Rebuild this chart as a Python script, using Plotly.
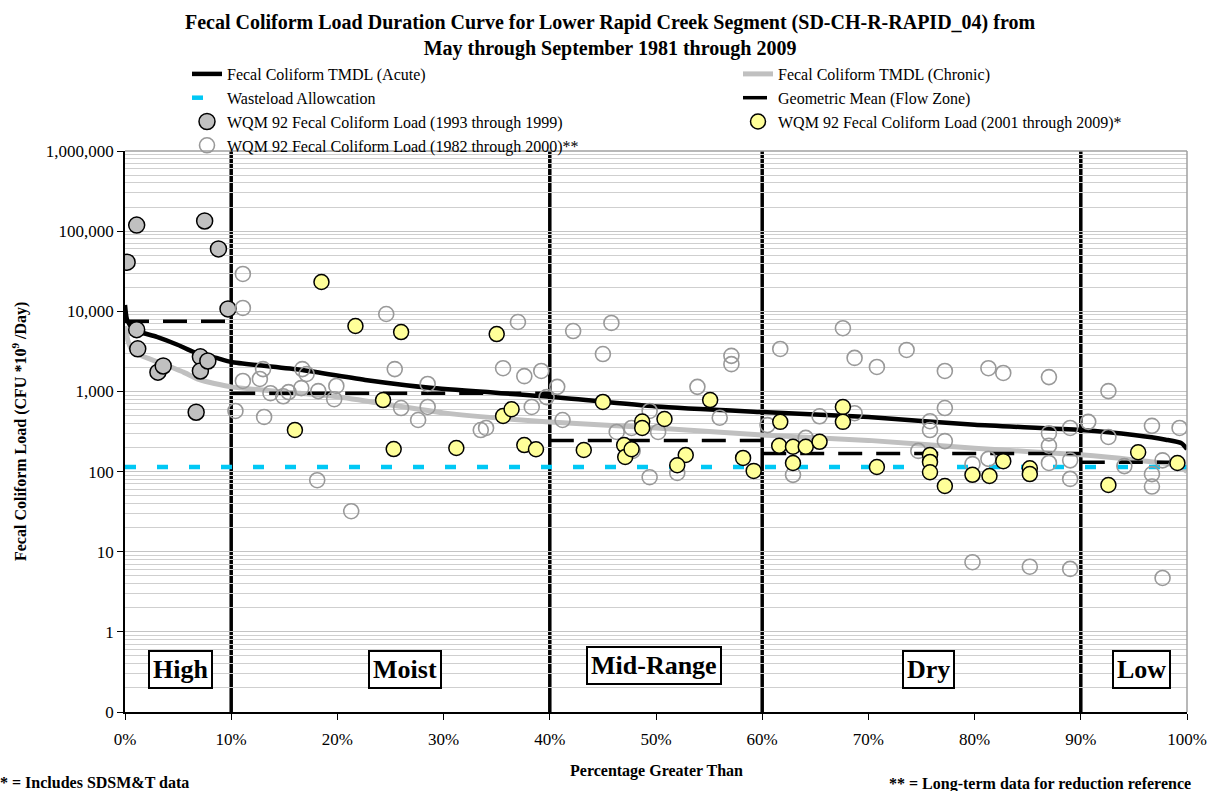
import plotly.graph_objects as go

# ---------------- data ----------------
acute_x = [0, 0.2, 0.8, 3, 5, 6.5, 8.7, 10, 16.5, 22.8, 29, 40, 50, 60, 70, 80, 90, 95, 98, 99.5, 100]
acute_y = [12000, 7800, 5900, 4800, 3800, 3100, 2600, 2330, 1860, 1380, 1100, 860, 650, 553, 480, 383, 330, 286, 250, 225, 190]

chronic_x = [0, 0.3, 0.7, 1.5, 3.3, 5.5, 7, 10, 16.5, 20, 30, 40, 50, 60, 70, 80, 90, 95, 99, 100]
chronic_y = [6500, 4200, 3200, 2800, 2270, 1740, 1400, 1140, 950, 860, 540, 415, 350, 286, 245, 195, 162, 140, 120, 100]

wla_x = [0, 100]
wla_y = [114, 114]

zone_edges = [0, 10, 40, 60, 90, 100]
zone_names = ["High", "Moist", "Mid-Range", "Dry", "Low"]
geomean = [7500, 950, 245, 168, 131]

gray_x = [0.2, 1.1, 1.1, 1.2, 3.1, 3.6, 6.7, 7.1, 7.1, 7.8, 7.5, 8.8, 9.7]
gray_y = [41000, 119000, 5900, 3400, 1740, 2080, 550, 2700, 1800, 2400, 134000, 60000, 10700]

yellow_x = [18.5, 21.7, 26.0, 24.3, 16.0, 25.3, 31.2, 35.0, 35.6, 36.4, 37.6, 38.7, 45.0, 43.2,
            47.0, 47.1, 47.7, 48.7, 48.7, 50.8, 52.8, 52.0, 55.1, 58.2, 59.2, 61.7, 61.6, 62.9,
            62.9, 64.1, 65.4, 67.6, 67.6, 70.8, 75.8, 75.8, 75.8, 77.2, 79.8, 81.4, 82.7, 85.2,
            85.2, 92.6, 95.4, 99.1]
yellow_y = [23200, 6550, 5500, 780, 330, 191, 197, 5200, 493, 600, 214, 190, 740, 186,
            214, 152, 190, 420, 350, 453, 161, 120, 780, 148, 102, 417, 210, 204,
            128, 204, 235, 640, 417, 114, 161, 132, 98, 66, 91, 88, 135, 110,
            93, 68, 174, 128]

hollow_x = [11.1, 11.1, 11.1, 10.4, 12.7, 13.0, 13.1, 13.7, 14.9, 15.4, 16.6, 16.7, 17.1, 18.2,
            19.7, 19.9, 18.1, 24.6, 25.4, 26.0, 27.6, 28.5, 28.5, 21.3, 33.5, 34.0, 35.6, 37.0,
            37.6, 38.3, 39.2, 39.7, 40.7, 41.2, 42.2, 45.0, 45.8, 46.3, 47.7, 49.4, 50.2, 49.4,
            47.8, 53.9, 56.0, 57.1, 57.1, 52.0, 60.5, 61.7, 64.1, 62.9, 65.4, 67.6, 68.7, 68.7,
            70.8, 73.6, 77.2, 77.2, 75.8, 75.8, 77.2, 74.7, 79.8, 81.3, 81.3, 82.7, 87.0, 87.0,
            87.0, 87.0, 89.0, 89.0, 89.0, 90.7, 92.6, 92.6, 94.1, 96.7, 96.7, 96.7, 97.7, 99.3,
            79.8, 85.2, 89.0, 97.7]
hollow_y = [29200, 11000, 1350, 570, 1430, 1900, 480, 950, 870, 980, 1100, 1900, 1650, 1010,
            800, 1170, 78, 9250, 1900, 620, 440, 1240, 640, 32, 330, 350, 1950, 7350,
            1550, 640, 1800, 850, 1140, 440, 5670, 2930, 7150, 312, 350, 570, 312, 85,
            181, 1140, 470, 2780, 2190, 96, 380, 3390, 263, 91, 490, 6150, 2620, 535,
            2020, 3290, 1800, 620, 425, 330, 240, 181, 124, 144, 1950, 1700, 1510, 300,
            210, 128, 350, 138, 81, 417, 1010, 270, 117, 372, 93, 65, 138, 350,
            7.4, 6.5, 6.1, 4.7]

y_tickvals = [0.1, 1, 10, 100, 1000, 10000, 100000, 1000000]
y_ticktext = ["0", "1", "10", "100", "1,000", "10,000", "100,000", "1,000,000"]

# ---------------- figure ----------------
SERIF = "Liberation Serif, Times New Roman, serif"
W, H = 1208, 791
ML, MR, MT, MB = 125, 21, 151, 79
PW, PH = W - ML - MR, H - MT - MB


def px_x(px):
    return (px - ML) / PW


def px_y(py):
    return (MT + PH - py) / PH


fig = go.Figure()

fig.add_trace(go.Scatter(x=acute_x, y=acute_y, mode="lines", name="Fecal Coliform TMDL (Acute)",
                         line=dict(color="black", width=4.5, shape="spline", smoothing=0.6),
                         legend="legend"))
fig.add_trace(go.Scatter(x=chronic_x, y=chronic_y, mode="lines", name="Fecal Coliform TMDL (Chronic)",
                         line=dict(color="#c0c0c0", width=5, shape="spline", smoothing=0.6),
                         legend="legend2"))
fig.add_trace(go.Scatter(x=wla_x, y=wla_y, mode="lines", name="Wasteload Allowcation",
                         line=dict(color="#00c8f5", width=4.5, dash="11px,21px"),
                         legend="legend"))

gm_x, gm_y = [], []
for i, v in enumerate(geomean):
    gm_x += [zone_edges[i], zone_edges[i + 1], None]
    gm_y += [v, v, None]
fig.add_trace(go.Scatter(x=gm_x, y=gm_y, mode="lines", name="Geometric Mean (Flow Zone)",
                         line=dict(color="black", width=3.5, dash="24px,14px"),
                         legend="legend2"))

fig.add_trace(go.Scatter(x=gray_x, y=gray_y, mode="markers",
                         name="WQM 92 Fecal Coliform Load (1993 through 1999)",
                         marker=dict(size=16, color="#c0c0c0", line=dict(color="black", width=1.5)),
                         legend="legend"))
fig.add_trace(go.Scatter(x=hollow_x, y=hollow_y, mode="markers",
                         name="WQM 92 Fecal Coliform Load (1982 through 2000)**",
                         marker=dict(size=15, symbol="circle-open", color="#999999",
                                     line=dict(color="#999999", width=1.6)),
                         legend="legend"))
fig.add_trace(go.Scatter(x=yellow_x, y=yellow_y, mode="markers",
                         name="WQM 92 Fecal Coliform Load (2001 through 2009)*",
                         marker=dict(size=15, color="#ffff99", line=dict(color="black", width=1.5)),
                         legend="legend2"))

# zone boundary lines
for b in zone_edges[1:-1]:
    fig.add_shape(type="line", xref="x", yref="paper", x0=b, x1=b, y0=0, y1=1,
                  line=dict(color="black", width=3.5), layer="below")
# top / right gray frame
fig.add_shape(type="line", xref="paper", yref="paper", x0=0, x1=1, y0=1, y1=1,
              line=dict(color="#a0a0a0", width=1.5))
fig.add_shape(type="line", xref="paper", yref="paper", x0=1, x1=1, y0=0, y1=1,
              line=dict(color="#a0a0a0", width=1.5))

# zone labels
label_pos = [(5.2, -0.47), (26.4, -0.47), (49.8, -0.42), (75.7, -0.47), (95.7, -0.47)]
for name, (lx, ly) in zip(zone_names, label_pos):
    fig.add_annotation(x=lx, y=ly, xref="x", yref="y", text="<b>%s</b>" % name, showarrow=False,
                       font=dict(family=SERIF, size=26, color="black"),
                       bgcolor="white", bordercolor="black", borderwidth=2, borderpad=3)

# title
fig.add_annotation(xref="paper", yref="paper", x=px_x(610), y=px_y(35), xanchor="center",
                   yanchor="middle", showarrow=False,
                   text="<b>Fecal Coliform Load Duration Curve for Lower Rapid Creek Segment (SD-CH-R-RAPID_04) from"
                        "<br>May through September 1981 through 2009</b>",
                   font=dict(family=SERIF, size=20, color="black"))
# axis titles
fig.add_annotation(xref="paper", yref="paper", x=px_x(656), y=px_y(771), xanchor="center",
                   yanchor="middle", showarrow=False, text="<b>Percentage Greater Than</b>",
                   font=dict(family=SERIF, size=16, color="black"))
fig.add_annotation(xref="paper", yref="paper", x=px_x(19), y=px_y(432), xanchor="center",
                   yanchor="middle", showarrow=False, textangle=-90,
                   text="<b>Fecal Coliform Load (CFU *10<sup>9</sup> /Day)</b>",
                   font=dict(family=SERIF, size=16, color="black"))

# footnotes
fig.add_annotation(xref="paper", yref="paper", x=px_x(-2), y=px_y(782),
                   xanchor="left", yanchor="middle",
                   text="<b>* = Includes SDSM&T data</b>", showarrow=False,
                   font=dict(family=SERIF, size=16, color="black"))
fig.add_annotation(xref="paper", yref="paper", x=px_x(1193), y=px_y(784),
                   xanchor="right", yanchor="middle",
                   text="<b>** = Long-term data for reduction reference</b>", showarrow=False,
                   font=dict(family=SERIF, size=16, color="black"))

fig.update_layout(
    width=W, height=H,
    margin=dict(l=ML, r=MR, t=MT, b=MB, autoexpand=False),
    paper_bgcolor="white", plot_bgcolor="white",
    font=dict(family=SERIF, color="black"),
    showlegend=True,
    legend=dict(xref="container", yref="container", x=187 / W, y=1 - 57 / H,
                xanchor="left", yanchor="top", bgcolor="rgba(0,0,0,0)",
                font=dict(family=SERIF, size=16, color="black"), tracegroupgap=0),
    legend2=dict(xref="container", yref="container", x=738 / W, y=1 - 57 / H,
                 xanchor="left", yanchor="top", bgcolor="rgba(0,0,0,0)",
                 font=dict(family=SERIF, size=16, color="black"), tracegroupgap=0),
    xaxis=dict(range=[0, 100], dtick=10, tick0=0, ticksuffix="%", ticks="outside", ticklen=6,
               tickcolor="black", showgrid=False, zeroline=False, showline=True,
               linecolor="black", linewidth=1.5, ticklabelstandoff=5,
               tickfont=dict(family=SERIF, size=17, color="black")),
    yaxis=dict(type="log", range=[-1, 6], tickvals=y_tickvals, ticktext=y_ticktext,
               ticks="outside", ticklen=6, tickcolor="black", showline=True,
               linecolor="black", linewidth=1.5, zeroline=False,
               showgrid=True, gridcolor="#c4c4c4", gridwidth=1,
               minor=dict(dtick="D1", showgrid=True, gridcolor="#cfcfcf", gridwidth=1, ticks=""),
               tickfont=dict(family=SERIF, size=17, color="black")),
)

fig.write_html("out.html")
